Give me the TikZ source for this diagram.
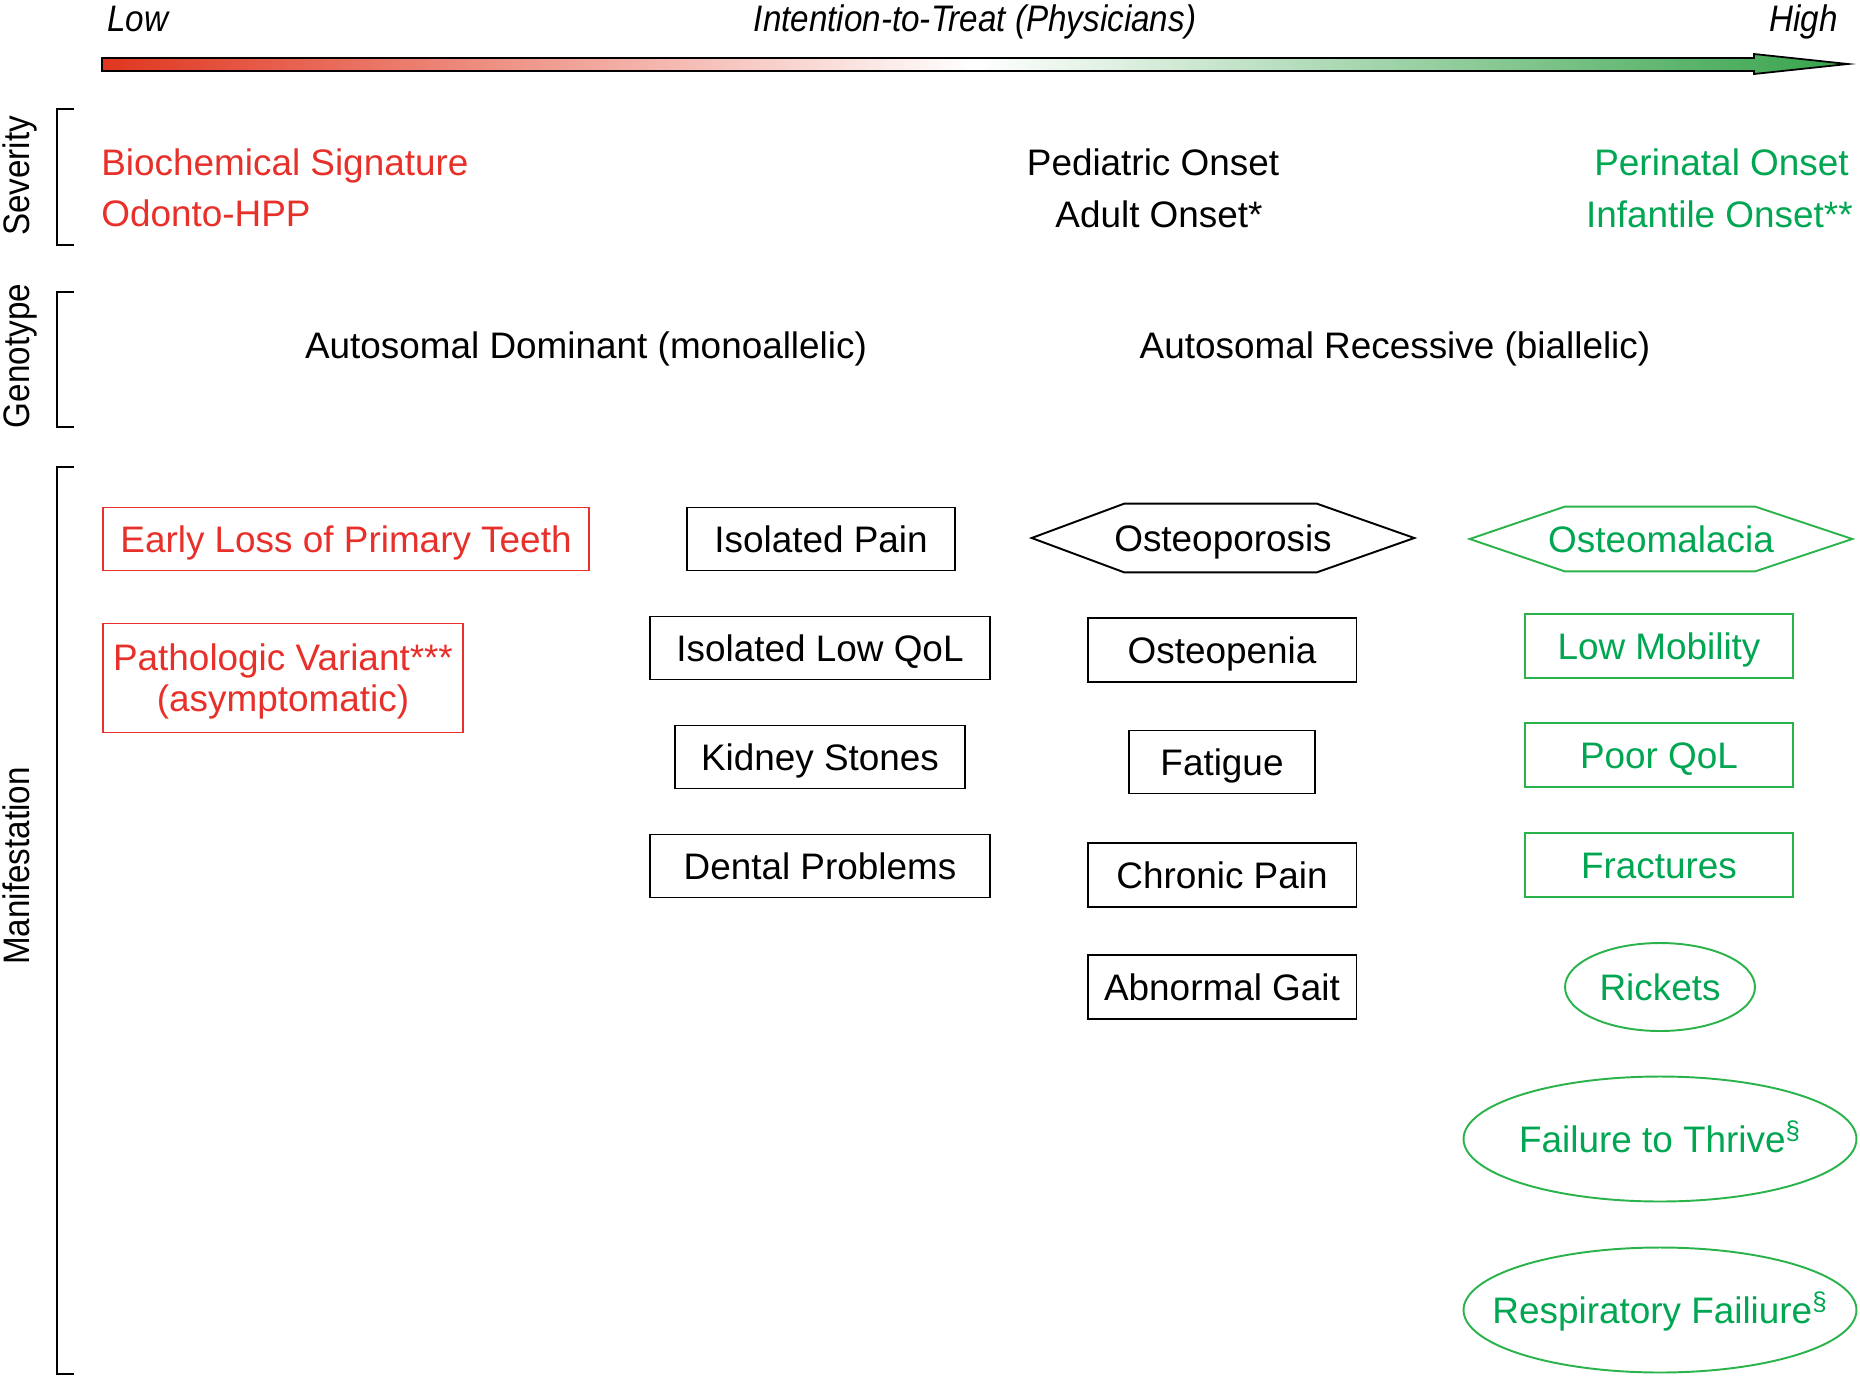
\documentclass[tikz,border=0pt]{standalone}
\usepackage{fontspec}
\setmainfont{Liberation Sans}
\newfontfamily\narrowsf[FakeStretch=0.9]{Liberation Sans}
\usetikzlibrary{shapes.geometric}

\definecolor{lowred}{HTML}{E8302A}
\definecolor{highgreen}{HTML}{00A651}
\definecolor{greenline}{HTML}{2BB34B}
\definecolor{arrowred}{HTML}{E0361F}
\definecolor{arrowgreen}{HTML}{36A34A}

\begin{document}
\begin{tikzpicture}[x=0.02cm, y=-0.02cm,
    every node/.style={font=\fontsize{21}{23.5}\selectfont, inner sep=0pt,
      text height=17.6pt, text depth=2.5pt},
    axislabel/.style={font=\narrowsf\itshape\fontsize{21}{23.5}\selectfont},
    sidelabel/.style={font=\narrowsf\fontsize{21}{23.5}\selectfont, rotate=90},
    bracket/.style={line width=1.3pt},
    lowtxt/.style={text=lowred},
    hightxt/.style={text=highgreen},
    sign/.style={draw, line width=1.1pt, minimum height=1.26cm},
    lowsign/.style={sign, draw=lowred, text=lowred},
    midsign/.style={sign, draw=black},
    highsign/.style={sign, draw=greenline, text=highgreen, minimum height=1.28cm},
    oval/.style={ellipse, draw=greenline, text=highgreen, line width=1.1pt,
      inner xsep=-0.6cm, inner ysep=0pt}]
  \useasboundingbox (0,0) rectangle (1860,1380);

  % scale
  \shadedraw[left color=arrowred, right color=arrowgreen, middle color=white, line width=1pt]
    (102,58) -- (1754,58) -- (1754,54) -- (1848,64) -- (1754,74) -- (1754,71) -- (102,71) -- cycle;
  \node[axislabel, anchor=west] (low) at (107,18) {Low};
  \node[axislabel] (itt) at (975,18) {Intention-to-Treat (Physicians)};
  \node[axislabel, anchor=east] (high) at (1838,18) {High};

  % brackets
  \draw[bracket] (74,109) -- (57,109) -- (57,245) -- (74,245);
  \draw[bracket] (74,292) -- (57,292) -- (57,427) -- (74,427);
  \draw[bracket] (74,467) -- (57,467) -- (57,1374) -- (74,1374);
  \node[sidelabel] (severity) at (16,176) {Severity};
  \node[sidelabel] (genotype) at (16,356) {Genotype};
  \node[sidelabel] (manifest) at (16,866) {Manifestation};

  % severity
  \node[lowtxt, anchor=west] (biochem) at (101,162) {Biochemical Signature};
  \node[lowtxt, anchor=west] (odonto) at (101,213) {Odonto-HPP};
  \node (pediatric) at (1153,162) {Pediatric Onset};
  \node (adult) at (1159,214) {Adult Onset*};
  \node[hightxt, anchor=east] (perinatal) at (1849,162) {Perinatal Onset};
  \node[hightxt, anchor=east] (infantile) at (1853,214) {Infantile Onset**};

  % genotype
  \node (dominant) at (586,345) {Autosomal Dominant (monoallelic)};
  \node (recessive) at (1395,345) {Autosomal Recessive (biallelic)};

  % manifestation
  \node[lowsign, minimum width=9.72cm] (teeth) at (346,539) {Early Loss of Primary Teeth};
  \node[lowsign, minimum width=7.2cm, minimum height=2.18cm, align=center,
    text height=41.1pt] (variant) at (283,678) {Pathologic Variant***\\(asymptomatic)};

  \node[midsign, minimum width=5.36cm] (isopain) at (821,539) {Isolated Pain};
  \node[midsign, minimum width=6.8cm] (isoqol) at (820,648) {Isolated Low QoL};
  \node[midsign, minimum width=5.8cm] (kidney) at (820,757) {Kidney Stones};
  \node[midsign, minimum width=6.8cm] (dental) at (820,866) {Dental Problems};

  \node[minimum width=7.64cm, minimum height=1.36cm] (porosis) at (1223,538) {Osteoporosis};
  \draw[line width=1.1pt] (porosis.west) -- ([xshift=1.85cm]porosis.north west)
    -- ([xshift=-1.95cm]porosis.north east) -- (porosis.east)
    -- ([xshift=-1.95cm]porosis.south east) -- ([xshift=1.85cm]porosis.south west) -- cycle;
  \node[midsign, minimum width=5.38cm, minimum height=1.28cm] (penia) at (1222,650) {Osteopenia};
  \node[midsign, minimum width=3.72cm] (fatigue) at (1222,762) {Fatigue};
  \node[midsign, minimum width=5.38cm, minimum height=1.28cm] (chronic) at (1222,875) {Chronic Pain};
  \node[midsign, minimum width=5.38cm, minimum height=1.28cm] (gait) at (1222,987) {Abnormal Gait};

  \node[hightxt, minimum width=7.64cm, minimum height=1.28cm] (malacia) at (1661,539) {Osteomalacia};
  \draw[greenline, line width=1.1pt] (malacia.west) -- ([xshift=1.9cm]malacia.north west)
    -- ([xshift=-1.94cm]malacia.north east) -- (malacia.east)
    -- ([xshift=-1.94cm]malacia.south east) -- ([xshift=1.9cm]malacia.south west) -- cycle;
  \node[highsign, minimum width=5.36cm] (mobility) at (1659,646) {Low Mobility};
  \node[highsign, minimum width=5.36cm] (poorqol) at (1659,755) {Poor QoL};
  \node[highsign, minimum width=5.36cm] (fractures) at (1659,865) {Fractures};
  \node[oval, minimum width=3.8cm, minimum height=1.76cm] (rickets) at (1660,987) {Rickets};
  \node[oval, minimum width=7.86cm, minimum height=2.5cm] (thrive) at (1660,1139) {Failure to Thrive\textsuperscript{\S}};
  \node[oval, minimum width=7.86cm, minimum height=2.5cm] (respfail) at (1660,1310) {Respiratory Failiure\textsuperscript{\S}};
\end{tikzpicture}
\end{document}
